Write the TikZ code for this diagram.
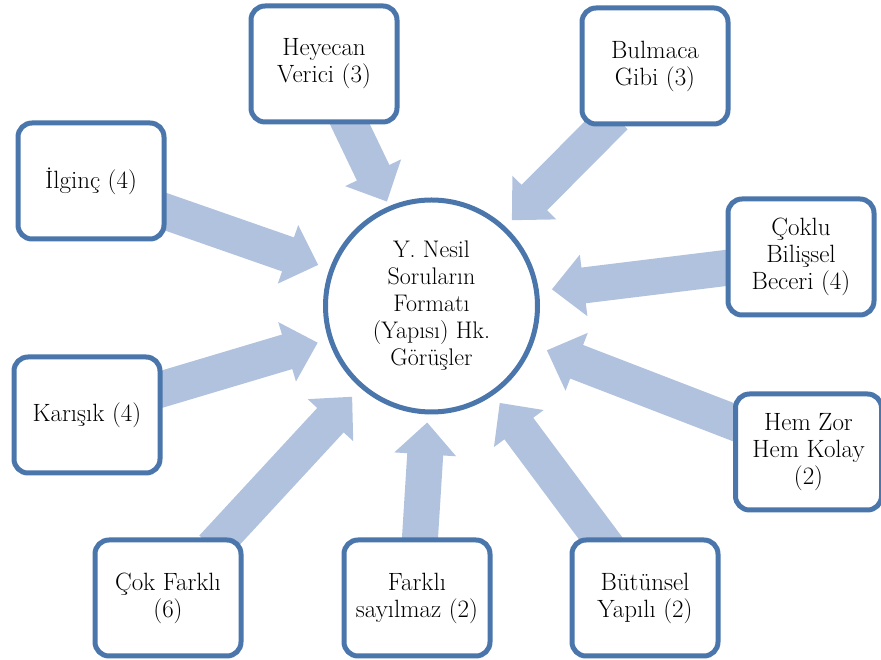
\documentclass[tikz,border=0pt]{standalone}
\usepackage{fontspec}
\usepackage{tikz}
\usetikzlibrary{arrows.meta,backgrounds}

\definecolor{boxblue}{RGB}{74,118,172}
\definecolor{arrowblue}{RGB}{176,194,222}

\begin{document}
\begin{tikzpicture}[x=1pt, y=1pt,
        opinion/.style={draw=boxblue, line width=5pt, fill=white, rounded corners=14pt,
            minimum width=146pt, minimum height=116pt, align=center, inner sep=2pt,
            font=\fontsize{25}{27}\selectfont},
        hubnode/.style={draw=boxblue, line width=5pt, fill=white, circle,
            minimum size=212pt, align=center, inner sep=0pt, font=\fontsize{24}{27}\selectfont},
        fatarrow/.style={arrowblue, line width=36pt,
            -{Triangle[width=60pt, length=32pt]}, shorten <=-14pt}]
    \useasboundingbox (0,0) rectangle (881,660);

    \node[hubnode] (hub) at (431.5,354) {Y. Nesil\\Soruların\\Formatı\\(Yapısı) Hk.\\Görüşler};

    \node[opinion] (heyecan) at (324,596) {Heyecan\\Verici (3)};
    \node[opinion] (bulmaca) at (655,594) {Bulmaca\\Gibi (3)};
    \node[opinion] (ilginc) at (91,479) {İlginç (4)};
    \node[opinion] (coklu) at (801,403) {Çoklu\\Bilişsel\\Beceri (4)};
    \node[opinion] (karisik) at (87,245) {Karışık (4)};
    \node[opinion] (hemzor) at (808.5,208) {Hem Zor\\Hem Kolay\\(2)};
    \node[opinion] (cokfarkli) at (168,62) {Çok Farklı\\(6)};
    \node[opinion] (farkli) at (417,62) {Farklı\\sayılmaz (2)};
    \node[opinion] (butunsel) at (645,62) {Bütünsel\\Yapılı (2)};

    % block arrows behind the boxes
    \begin{scope}[on background layer]
        \draw[fatarrow, shorten >=5pt] ([xshift=26pt]heyecan.south) -- (hub.113);
        \draw[fatarrow, shorten >=9pt] ([xshift=-50pt]bulmaca.south) -- (hub.47);
        \draw[fatarrow, shorten >=12pt] ([yshift=-31pt]ilginc.east) -- (hub.160);
        \draw[fatarrow, shorten >=13pt] ([yshift=-11pt]coklu.west) -- (hub.8);
        \draw[fatarrow, shorten >=11pt] ([yshift=26pt]karisik.east) -- (hub.198);
        \draw[fatarrow, shorten >=15pt] ([yshift=30pt]hemzor.west) -- (hub.339);
        \draw[fatarrow, shorten >=12pt] ([xshift=54pt]cokfarkli.north) -- (hub.229);
        \draw[fatarrow, shorten >=8pt] ([xshift=3pt]farkli.north) -- (hub.268);
        \draw[fatarrow, shorten >=10pt] ([xshift=-45pt]butunsel.north) -- (hub.305);
    \end{scope}
\end{tikzpicture}
\end{document}
